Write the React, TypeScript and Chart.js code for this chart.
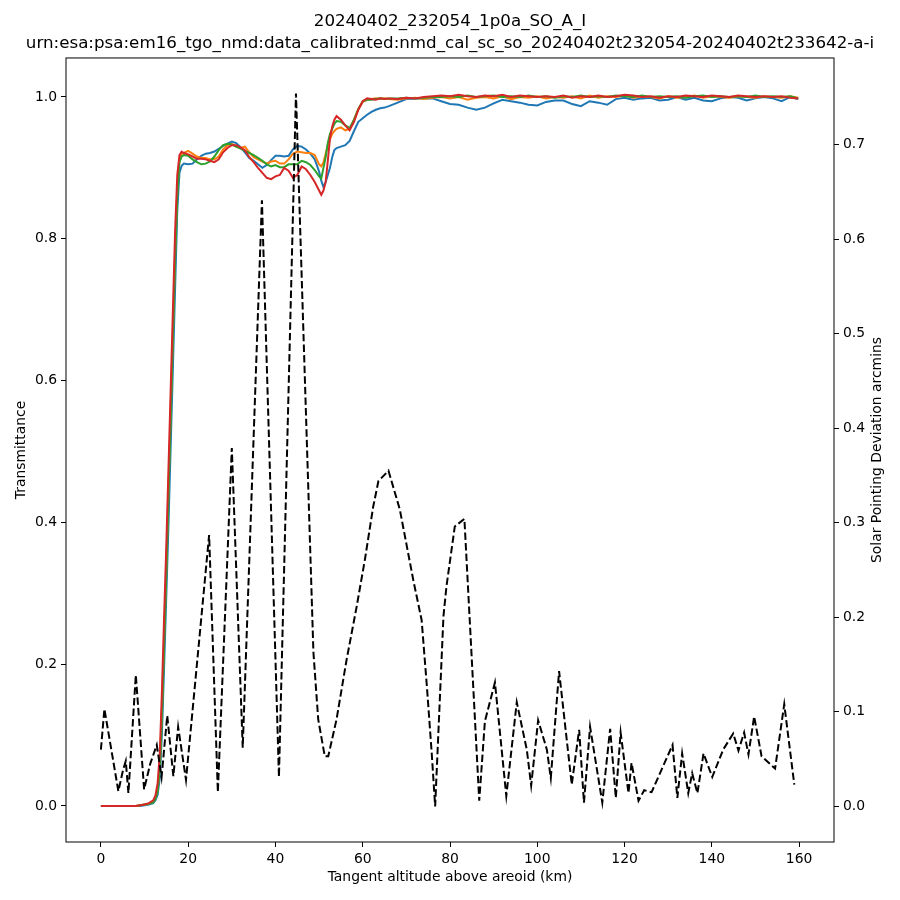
import React, { useEffect, useRef } from 'react';
import { Chart, registerables } from 'chart.js';

Chart.register(...registerables);

const TITLE_LINES = [
  '20240402_232054_1p0a_SO_A_I',
  'urn:esa:psa:em16_tgo_nmd:data_calibrated:nmd_cal_sc_so_20240402t232054-20240402t233642-a-i',
];
const RIGHT_LABEL = 'Solar Pointing Deviation arcmins';

// tangent altitude (km) shared by the four transmittance curves
const altitudes = [
  0, 2, 4, 6, 8, 9, 10, 11,
  12, 12.5, 13, 13.5, 14, 14.5, 15, 15.5, 16, 16.5, 17, 17.5, 18, 18.5,
  19, 20, 21, 22, 23, 24, 25, 26, 27, 28, 29, 30, 31, 32, 33, 34, 35, 36, 37, 38,
  39, 40, 41, 42, 43, 44, 45, 46, 47, 48, 49, 50,
  50.5, 51, 51.5, 52, 52.5, 53, 53.5, 54,
  55, 56, 57, 58, 59, 60, 61, 62, 63, 64, 65, 66,
  68, 70, 72, 74, 76, 78, 80, 82, 84, 86, 88, 90, 92, 94, 96, 98, 100, 102, 104, 106,
  108, 110, 112, 114, 116, 118, 120, 122, 124, 126, 128, 130, 132, 134, 136, 138, 140, 142, 144, 146,
  148, 150, 152, 154, 156, 158, 159.8,
];

const blueT = [
  0, 0, 0, 0, 0, 0, 0.001, 0.002,
  0.004, 0.008, 0.016, 0.04, 0.105, 0.2, 0.3, 0.4, 0.51, 0.62, 0.73, 0.84, 0.893, 0.903,
  0.906, 0.905, 0.906, 0.912, 0.917, 0.92, 0.921, 0.923, 0.927, 0.931, 0.934, 0.937, 0.935, 0.929, 0.922, 0.914, 0.91, 0.905, 0.9, 0.904,
  0.911, 0.917, 0.917, 0.916, 0.917, 0.926, 0.931, 0.93, 0.926, 0.92, 0.912, 0.895,
  0.882, 0.873, 0.88, 0.89, 0.9, 0.915, 0.925, 0.928,
  0.93, 0.932, 0.938, 0.952, 0.965, 0.97, 0.975, 0.979, 0.982, 0.984, 0.985, 0.987,
  0.992, 0.997, 0.998, 0.998, 0.998, 0.994, 0.99, 0.989, 0.985, 0.982, 0.985, 0.991, 0.996, 0.994, 0.992, 0.989, 0.988, 0.993, 0.995, 0.995,
  0.99, 0.987, 0.994, 0.992, 0.989, 0.997, 0.999, 0.996, 0.998, 0.999, 0.995, 0.996, 1.0, 0.996, 0.999, 0.995, 0.994, 0.998, 1.0, 0.999,
  0.995, 0.998, 1.0, 0.998, 0.994, 1.0, 0.997,
];

const orangeT = [
  0, 0, 0, 0, 0, 0.001, 0.002, 0.003,
  0.006, 0.011, 0.024, 0.058, 0.14, 0.24, 0.34, 0.45, 0.56, 0.67, 0.78, 0.87, 0.912, 0.92,
  0.921, 0.924, 0.92, 0.916, 0.914, 0.914, 0.912, 0.912, 0.916, 0.926, 0.932, 0.934, 0.93, 0.928, 0.93, 0.922, 0.915, 0.912, 0.909, 0.906,
  0.909, 0.91, 0.906, 0.906, 0.912, 0.92, 0.923, 0.922, 0.921, 0.921, 0.918, 0.905,
  0.902, 0.908, 0.92, 0.932, 0.94, 0.948, 0.952, 0.955,
  0.957, 0.953, 0.955, 0.968, 0.983, 0.993, 0.996, 0.997, 0.998, 0.997, 0.998, 0.997,
  0.996, 0.998, 0.999, 0.997, 0.999, 1.0, 0.998, 1.0, 0.996, 0.999, 1.0, 0.998, 1.001, 0.997, 1.0, 0.999, 1.001, 0.998, 1.0, 0.999,
  1.001, 0.998, 1.002, 0.999, 1.001, 1.0, 1.002, 0.999, 1.001, 1.0, 0.998, 1.001, 0.999, 1.0, 1.002, 0.999, 1.001, 1.0, 0.999, 1.001,
  1.0, 0.999, 1.001, 1.0, 0.999, 1.001, 0.999,
];

const greenT = [
  0, 0, 0, 0, 0, 0.001, 0.002, 0.003,
  0.005, 0.01, 0.021, 0.052, 0.13, 0.23, 0.33, 0.44, 0.55, 0.66, 0.77, 0.86, 0.908, 0.916,
  0.918, 0.917, 0.912, 0.908, 0.905, 0.906, 0.909, 0.916, 0.925, 0.932, 0.934, 0.933, 0.93, 0.927, 0.924, 0.921, 0.918, 0.914, 0.91, 0.905,
  0.902, 0.904, 0.901, 0.901, 0.905, 0.905, 0.905, 0.91, 0.908, 0.904, 0.897, 0.888,
  0.885, 0.9, 0.915, 0.935, 0.948, 0.955, 0.962, 0.966,
  0.965, 0.96, 0.956, 0.968, 0.983, 0.994, 0.996, 0.996, 0.997, 0.998, 0.997, 0.998,
  0.998, 0.999, 0.998, 0.999, 1.0, 1.0, 1.001, 1.0, 1.002, 1.0, 1.001, 1.002, 1.0, 1.001, 1.0, 1.002, 1.0, 1.001, 0.999, 1.001,
  1.0, 1.002, 1.0, 1.001, 1.0, 1.002, 1.001, 1.0, 1.002, 1.0, 1.001, 1.0, 1.001, 0.999, 1.001, 1.002, 1.0, 1.001, 1.0, 1.001,
  1.0, 1.002, 1.0, 1.001, 1.0, 1.001, 0.998,
];

const redT = [
  0, 0, 0, 0, 0, 0.001, 0.002, 0.004,
  0.008, 0.015, 0.032, 0.075, 0.165, 0.27, 0.37, 0.48, 0.59, 0.7, 0.81, 0.89, 0.918, 0.923,
  0.921, 0.919, 0.916, 0.913, 0.913, 0.912, 0.91, 0.908, 0.912, 0.922, 0.928, 0.932, 0.932, 0.929, 0.925, 0.915, 0.908, 0.9, 0.893, 0.886,
  0.884, 0.888, 0.89, 0.9, 0.896, 0.886, 0.89, 0.902, 0.898, 0.89, 0.88, 0.868,
  0.862, 0.868, 0.88, 0.91, 0.942, 0.958, 0.968, 0.973,
  0.968, 0.96, 0.953, 0.965, 0.982, 0.994, 0.998, 0.997, 0.996, 0.998, 0.997, 0.998,
  0.997, 0.999, 0.998, 1.0, 1.001, 1.002, 1.001, 1.003, 1.001, 1.0, 1.002, 1.001, 1.003, 1.0, 1.002, 1.001, 1.0, 1.001, 1.0, 1.002,
  0.999, 1.001, 1.0, 1.002, 1.0, 1.001, 1.003, 1.002, 1.0, 1.001, 0.999, 1.001, 1.0, 1.002, 1.001, 1.0, 1.002, 1.001, 1.0, 1.002,
  1.001, 1.0, 1.001, 1.0, 1.001, 0.999, 0.998,
];

// solar pointing deviation (arcmins), right axis
const pointingAlt = [
  0, 0.8, 2.2, 4.0, 5.1, 5.7, 6.3, 8.0, 9.9, 11.3,
  12.8, 13.9, 15.2, 16.6, 17.7, 19.5, 24.8, 26.8, 30.0, 32.5,
  36.9, 40.8, 44.7, 48.7, 49.8, 51.3, 52.1, 54.0, 56.3, 58.6,
  60.5, 62.4, 63.6, 65.9, 68.5, 71.6, 73.5, 74.7, 75.8, 76.6,
  78.5, 79.2, 81.1, 83.3, 86.7, 88.0, 90.3, 92.9, 95.3, 97.6,
  98.6, 100.2, 102.2, 103.1, 105.0, 107.9, 109.6, 110.7, 112.1, 114.9,
  116.7, 118.0, 119.1, 120.9, 121.6, 123.2, 124.5, 126.2, 131.0, 132.1,
  133.2, 134.6, 135.5, 136.7, 138.1, 140.1, 142.6, 144.9, 146.1, 147.4,
  148.4, 149.7, 151.4, 154.5, 156.6, 158.9,
];
const pointingDev = [
  0.06, 0.103, 0.065, 0.016, 0.039, 0.048, 0.014, 0.139, 0.018, 0.045,
  0.065, 0.031, 0.096, 0.032, 0.084, 0.028, 0.287, 0.015, 0.379, 0.062,
  0.641, 0.031, 0.754, 0.163, 0.092, 0.053, 0.053, 0.092, 0.155, 0.211,
  0.261, 0.317, 0.344, 0.355, 0.314, 0.239, 0.197, 0.127, 0.057, 0.0,
  0.201, 0.233, 0.296, 0.304, 0.006, 0.09, 0.131, 0.011, 0.11, 0.06,
  0.022, 0.091, 0.06, 0.03, 0.143, 0.023, 0.081, 0.004, 0.084, 0.004,
  0.082, 0.009, 0.078, 0.014, 0.046, 0.006, 0.017, 0.015, 0.065, 0.009,
  0.056, 0.014, 0.035, 0.014, 0.056, 0.031, 0.06, 0.077, 0.059, 0.078,
  0.055, 0.095, 0.053, 0.04, 0.108, 0.023,
];

const altTicks = [0, 20, 40, 60, 80, 100, 120, 140, 160];
const transTicks = [0, 0.2, 0.4, 0.6, 0.8, 1.0];
const devTicks = [0, 0.1, 0.2, 0.3, 0.4, 0.5, 0.6, 0.7];

const FONT = 'DejaVu Sans';

// box round the plot area, plus the right-hand axis label read bottom to top
const framePlugin = {
  id: 'frame',
  afterDatasetsDraw(chart: any) {
    const { ctx, chartArea } = chart;
    ctx.save();
    ctx.strokeStyle = '#000';
    ctx.lineWidth = 1;
    ctx.strokeRect(chartArea.left, chartArea.top, chartArea.right - chartArea.left, chartArea.bottom - chartArea.top);
    ctx.restore();
  },
  afterDraw(chart: any) {
    const { ctx, chartArea } = chart;
    ctx.save();
    ctx.translate(chart.width - 22.5, (chartArea.top + chartArea.bottom) / 2);
    ctx.rotate(-Math.PI / 2);
    ctx.fillStyle = '#000';
    ctx.font = `13.9px "${FONT}"`;
    ctx.textAlign = 'center';
    ctx.textBaseline = 'middle';
    ctx.fillText(RIGHT_LABEL, 0, 0);
    ctx.restore();
  },
};

const tickGrid = {
  display: true,
  drawOnChartArea: false,
  drawTicks: true,
  tickLength: 5,
  tickWidth: 1,
  tickColor: '#000',
};

const App: React.FC = () => {
  const canvasRef = useRef<HTMLCanvasElement | null>(null);

  useEffect(() => {
    const ctx = canvasRef.current?.getContext('2d');
    if (!ctx) return;

    const line = (label: string, ys: number[], color: string, order: number) => ({
      label,
      data: altitudes.map((x, i) => ({ x, y: ys[i] })),
      borderColor: color,
      borderWidth: 2,
      pointRadius: 0,
      showLine: true,
      tension: 0,
      yAxisID: 'y',
      order,
    });

    const chart = new Chart(ctx, {
      type: 'scatter',
      data: {
        datasets: [
          line('blue', blueT, '#1f77b4', 4),
          line('orange', orangeT, '#ff7f0e', 3),
          line('green', greenT, '#2ca02c', 2),
          line('red', redT, '#d62728', 1),
          {
            label: 'pointing',
            data: pointingAlt.map((x, i) => ({ x, y: pointingDev[i] })),
            borderColor: '#000',
            borderWidth: 2,
            borderDash: [7.4, 3.2],
            pointRadius: 0,
            showLine: true,
            tension: 0,
            yAxisID: 'y2',
            order: 0,
          } as any,
        ],
      },
      options: {
        animation: false,
        responsive: true,
        maintainAspectRatio: false,
        events: [],
        layout: { padding: 0 },
        plugins: {
          legend: { display: false },
          tooltip: { enabled: false },
          title: {
            display: true,
            text: TITLE_LINES,
            color: '#000',
            font: { family: FONT, size: 16.7, weight: 'normal', lineHeight: 1.3 },
            padding: { top: 10.85, bottom: 3.7 },
          },
        },
        scales: {
          x: {
            type: 'linear',
            position: 'bottom',
            min: -8,
            max: 168,
            afterBuildTicks: (s: any) => { s.ticks = altTicks.map((v) => ({ value: v })); },
            afterFit: (s: any) => { s.height = 58; },
            grid: tickGrid,
            border: { display: false },
            ticks: {
              color: '#000',
              padding: 4,
              maxRotation: 0,
              autoSkip: false,
              font: { family: FONT, size: 13.9 },
              callback: (v: any) => String(v),
            },
            title: {
              display: true,
              text: 'Tangent altitude above areoid (km)',
              color: '#000',
              font: { family: FONT, size: 13.9 },
              padding: { top: 0, bottom: 14.7 },
            },
          },
          y: {
            type: 'linear',
            position: 'left',
            min: -0.0508,
            max: 1.055,
            afterBuildTicks: (s: any) => { s.ticks = transTicks.map((v) => ({ value: v })); },
            afterFit: (s: any) => { s.width = 66; },
            grid: tickGrid,
            border: { display: false },
            ticks: {
              color: '#000',
              padding: 4,
              autoSkip: false,
              font: { family: FONT, size: 13.9 },
              callback: (v: any) => Number(v).toFixed(1),
            },
            title: {
              display: true,
              text: 'Transmittance',
              color: '#000',
              font: { family: FONT, size: 13.9 },
              padding: { top: 12.7, bottom: 0 },
            },
          },
          y2: {
            type: 'linear',
            position: 'right',
            min: -0.0377,
            max: 0.7915,
            afterBuildTicks: (s: any) => { s.ticks = devTicks.map((v) => ({ value: v })); },
            afterFit: (s: any) => { s.width = 66; },
            grid: tickGrid,
            border: { display: false },
            ticks: {
              color: '#000',
              padding: 4,
              autoSkip: false,
              font: { family: FONT, size: 13.9 },
              callback: (v: any) => Number(v).toFixed(1),
            },
            title: { display: false },
          },
        },
      } as any,
      plugins: [framePlugin],
    });

    return () => {
      chart.destroy();
    };
  }, []);

  return (
    <div style={{ position: 'absolute', left: 0, top: 0, width: 900, height: 900, background: '#fff' }}>
      <canvas ref={canvasRef} />
    </div>
  );
};

export default App;
